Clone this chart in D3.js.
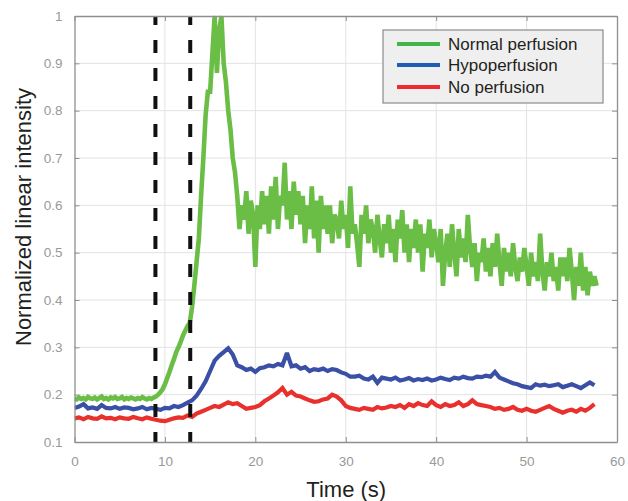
<!DOCTYPE html>
<html>
<head>
<meta charset="utf-8">
<script src="https://cdn.jsdelivr.net/npm/d3@7"></script>
<style>
  html, body { margin: 0; padding: 0; background: #fff; }
  svg { display: block; }
</style>
</head>
<body>
<svg id="chart" width="628" height="501"></svg>
<script>
// ---------------- data ----------------
const seriesNames = ["Normal perfusion", "Hypoperfusion", "No perfusion"];
const xTicks = [0, 10, 20, 30, 40, 50, 60];
const yTicks = [0.1, 0.2, 0.3, 0.4, 0.5, 0.6, 0.7, 0.8, 0.9, 1];
const yTickLabels = ["0.1", "0.2", "0.3", "0.4", "0.5", "0.6", "0.7", "0.8", "0.9", "1"];
const injectionMarks = [8.95, 12.8];   // dashed vertical lines (s)

// sample intervals of the recorded traces (s)
const greenInterval = 0.25;
const blueInterval = 0.5;
const redInterval = 0.5;

// Normal perfusion, sampled every 0.25 s from t = 0
const normalValues = [
  .192,.190,.194,.191, .193,.190,.195,.192, .191,.194,.190,.193, .196,.191,.193,.190,
  .194,.192,.195,.191, .192,.195,.190,.193, .191,.194,.192,.190, .193,.191,.195,.192,
  .190,.193,.191,.194,
  .196,.200,.205,.212, .222,.235,.248,.262, .275,.290,.300,.312, .325,.335,.345,.352,
  .385,.430,.480,.530, .620,.700,.790,.840, .840,.920,1.00,.880, .970,1.00,.900,.860,
  .800,.760,.700,.670, .620,.550,.600,.570, .630,.540,.610,.580, .470,.600,.550,.630,
  .560,.620,.540,.640, .570,.660,.550,.620, .600,.690,.570,.630, .550,.650,.580,.630,
  .560,.620,.520,.600, .550,.640,.530,.610, .500,.620,.550,.600, .540,.600,.520,.580,
  .570,.530,.610,.550, .580,.510,.640,.540, .560,.520,.470,.580, .540,.600,.520,.570,
  .550,.500,.580,.530, .490,.560,.520,.580, .500,.550,.480,.570, .530,.590,.500,.560,
  .480,.550,.510,.570, .500,.560,.460,.540, .510,.570,.490,.550, .520,.480,.550,.430,
  .500,.540,.470,.560, .500,.450,.550,.490, .530,.480,.580,.510, .470,.520,.440,.500,
  .480,.530,.460,.510, .450,.520,.470,.540, .480,.430,.510,.460, .500,.450,.520,.470,
  .440,.490,.460,.510, .470,.430,.500,.450, .480,.440,.540,.460, .420,.480,.450,.500,
  .440,.470,.420,.490, .450,.490,.440,.510, .460,.400,.470,.430, .500,.420,.470,.410,
  .460,.430,.450,.430
];

// Hypoperfusion, sampled every 0.5 s from t = 0
const hypoValues = [
  .172,.175, .180,.171, .173,.170, .178,.172, .171,.174, .170,.173, .172,.169, .171,.174,
  .169,.172, .170,.168, .172,.171, .176,.174, .178,.183, .188,.198, .212,.228, .250,.272,
  .282,.290, .298,.285, .262,.258, .252,.255, .248,.256, .258,.262, .260,.265, .262,.288,
  .260,.262, .255,.258, .250,.254, .252,.255, .250,.254, .252,.247, .244,.238, .238,.240,
  .234,.232, .238,.225, .236,.234, .232,.236, .230,.232, .235,.230, .233,.231, .234,.230,
  .232,.236, .233,.231, .236,.234, .238,.235, .234,.238, .237,.240, .238,.248, .236,.232,
  .228,.224, .222,.218, .216,.214, .222,.219, .221,.218, .220,.222, .216,.219, .222,.218,
  .214,.220, .226,.220
];

// No perfusion, sampled every 0.5 s from t = 0
const noneValues = [
  .150,.152, .148,.153, .150,.149, .154,.150, .151,.148, .152,.150, .149,.153, .150,.148,
  .152,.149, .147,.145, .144,.147, .150,.152, .151,.156, .153,.160, .164,.168, .172,.176,
  .174,.179, .184,.180, .182,.176, .170,.172, .174,.178, .186,.192, .198,.205, .214,.200,
  .206,.198, .196,.192, .188,.185, .186,.190, .192,.200, .196,.188, .176,.172, .170,.168,
  .172,.170, .168,.174, .171,.173, .176,.174, .178,.172, .180,.176, .182,.178, .176,.186,
  .178,.174, .180,.176, .178,.184, .176,.180, .188,.180, .178,.176, .174,.170, .172,.168,
  .170,.174, .168,.166, .170,.166, .164,.168, .172,.176, .170,.166, .162,.166, .168,.164,
  .170,.166, .172,.180
];

// ---------------- layout ----------------
const svg = d3.select("#chart");
const plot = { left: 74.5, right: 617, top: 16, bottom: 442 };

const x = d3.scaleLinear().domain([0, 60]).range([plot.left, plot.right]);
const y = d3.scaleLinear().domain([0.1, 1]).range([plot.bottom, plot.top]);

const axisGray = "#8f8f8f";
const gridGray = "#e3e3e3";
const font = "'Liberation Sans', Arial, Helvetica, sans-serif";

// grid
const grid = svg.append("g");
grid.selectAll("line.gx").data(xTicks.slice(1, -1)).join("line")
  .attr("x1", d => x(d)).attr("x2", d => x(d))
  .attr("y1", plot.top).attr("y2", plot.bottom)
  .attr("stroke", gridGray).attr("stroke-width", 1);
grid.selectAll("line.gy").data(yTicks.slice(1, -1)).join("line")
  .attr("x1", plot.left).attr("x2", plot.right)
  .attr("y1", d => y(d)).attr("y2", d => y(d))
  .attr("stroke", gridGray).attr("stroke-width", 1);

// clip
svg.append("clipPath").attr("id", "clip").append("rect")
  .attr("x", plot.left).attr("y", plot.top - 1)
  .attr("width", plot.right - plot.left).attr("height", plot.bottom - plot.top + 1);

const series = [
  { name: seriesNames[2], values: noneValues, dt: redInterval, color: "#e8302c", width: 4.2 },
  { name: seriesNames[1], values: hypoValues, dt: blueInterval, color: "#3a4fa6", width: 4.2 },
  { name: seriesNames[0], values: normalValues, dt: greenInterval, color: "#6abd45", width: 4.6 }
];

const line = d3.line().x(d => x(d[0])).y(d => y(d[1]));
const lines = svg.append("g").attr("clip-path", "url(#clip)");
series.forEach(s => {
  const pts = s.values.map((v, i) => [i * s.dt, v]);
  lines.append("path").datum(pts)
    .attr("d", line)
    .attr("fill", "none")
    .attr("stroke", s.color)
    .attr("stroke-width", s.width)
    .attr("stroke-linejoin", "miter")
    .attr("stroke-miterlimit", 2);
});

// dashed markers
svg.append("g").selectAll("line").data(injectionMarks).join("line")
  .attr("x1", d => x(d)).attr("x2", d => x(d))
  .attr("y1", plot.top).attr("y2", plot.bottom)
  .attr("stroke", "#111").attr("stroke-width", 4)
  .attr("stroke-dasharray", "13,15").attr("stroke-dashoffset", 4);

// axes (MATLAB style box with inward ticks)
const xAxisB = d3.axisBottom(x).tickValues(xTicks).tickSizeInner(-5).tickSizeOuter(0).tickPadding(14).tickFormat(d3.format("d"));
const xAxisT = d3.axisTop(x).tickValues(xTicks).tickSizeInner(-5).tickSizeOuter(0).tickFormat("");
const yAxisL = d3.axisLeft(y).tickValues(yTicks).tickSizeInner(-5).tickSizeOuter(0).tickPadding(12)
  .tickFormat((d, i) => yTickLabels[i]);
const yAxisR = d3.axisRight(y).tickValues(yTicks).tickSizeInner(-5).tickSizeOuter(0).tickFormat("");

function styleAxis(g) {
  g.select(".domain").attr("stroke", axisGray).attr("stroke-width", 1.3);
  g.selectAll(".tick line").attr("stroke", axisGray);
  g.selectAll(".tick text").attr("fill", "#999").attr("font-family", font).attr("font-size", 13.5);
}
svg.append("g").attr("transform", `translate(0,${plot.bottom})`).call(xAxisB).call(styleAxis);
svg.append("g").attr("transform", `translate(0,${plot.top})`).call(xAxisT).call(styleAxis);
svg.append("g").attr("transform", `translate(${plot.left},0)`).call(yAxisL).call(styleAxis);
svg.append("g").attr("transform", `translate(${plot.right},0)`).call(yAxisR).call(styleAxis);

// axis titles
svg.append("text")
  .attr("x", (plot.left + plot.right) / 2 + 0.5).attr("y", 497)
  .attr("text-anchor", "middle")
  .attr("font-family", font).attr("font-size", 22).attr("fill", "#231f20")
  .text("Time (s)");
svg.append("text")
  .attr("transform", `translate(31,${217}) rotate(-90)`)
  .attr("text-anchor", "middle")
  .attr("font-family", font).attr("font-size", 22).attr("fill", "#231f20")
  .text("Normalized linear intensity");

// legend
const legendColors = ["#3fb54a", "#1d5fb3", "#ec2a30"];
const legend = svg.append("g");
legend.append("rect")
  .attr("x", 383).attr("y", 30).attr("width", 220).attr("height", 73)
  .attr("fill", "#efefef").attr("stroke", "#8a8a8a").attr("stroke-width", 1.2);
const rowY = [44, 65, 87];
seriesNames.forEach((name, i) => {
  legend.append("line")
    .attr("x1", 397).attr("x2", 440).attr("y1", rowY[i]).attr("y2", rowY[i])
    .attr("stroke", legendColors[i]).attr("stroke-width", 4);
  legend.append("text")
    .attr("x", 448).attr("y", rowY[i] + 6)
    .attr("font-family", font).attr("font-size", 17).attr("fill", "#231f20")
    .text(name);
});
</script>
</body>
</html>
